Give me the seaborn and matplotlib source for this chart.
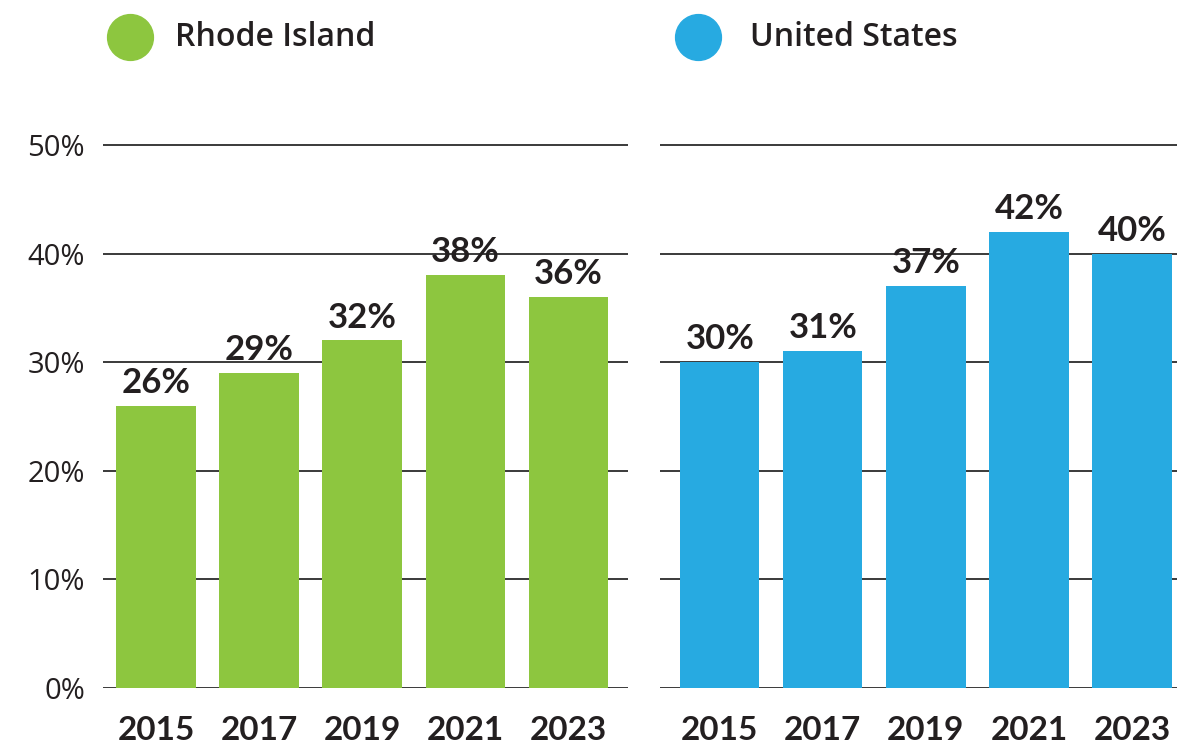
import numpy as np
import pandas as pd
import matplotlib
matplotlib.use('Agg')
import matplotlib.pyplot as plt
from matplotlib.lines import Line2D
import seaborn as sns

# ── Data ─────────────────────────────────────────────────────────────────────
years = ['2015', '2017', '2019', '2021', '2023']
ri_values = [26, 29, 32, 38, 36]
us_values = [30, 31, 37, 42, 40]
y_ticks = [0, 10, 20, 30, 40, 50]

GREEN = '#8DC63F'
BLUE = '#27AAE1'
INK = '#231F20'

sns.set_theme(style='white')
plt.rcParams['font.family'] = ['Lato', 'DejaVu Sans']

fig = plt.figure(figsize=(11.77, 7.44), dpi=100)
W, H = 1177, 744

# axes placement in pixels: 0% at y=688, one percent = 10.86 px
unit = 543 / 50
y0 = 688
ymax = 51
bottom = (H - y0) / H
height = ymax * unit / H

ax_l = fig.add_axes([103 / W, bottom, 525 / W, height])
ax_r = fig.add_axes([660 / W, bottom, (W - 660) / W, height])


def draw_panel(ax, values, color, xlim, show_yticks):
    df = pd.DataFrame({'year': years, 'value': values})
    sns.barplot(data=df, x='year', y='value', color=color, width=0.77,
                saturation=1, ax=ax, zorder=3, linewidth=0)
    ax.set_xlim(*xlim)
    ax.set_ylim(0, ymax)
    ax.set_yticks(y_ticks)
    ax.yaxis.grid(True, color='#3a3a3a', linewidth=1.4, zorder=0)
    ax.set_axisbelow(True)
    for s in ax.spines.values():
        s.set_visible(False)
    ax.set_xlabel('')
    ax.set_ylabel('')
    ax.tick_params(axis='x', length=0, pad=20, labelsize=24, colors=INK)
    for t in ax.get_xticklabels():
        t.set_fontweight('bold')
    if show_yticks:
        ax.set_yticklabels([f'{v}%' for v in y_ticks],
                           family=['Open Sans', 'DejaVu Sans'])
        ax.tick_params(axis='y', length=0, pad=13, labelsize=21, colors=INK)
    else:
        ax.tick_params(axis='y', length=0, labelleft=False)
    ax.bar_label(ax.containers[0], fmt='%d%%', padding=5, fontsize=25,
                 fontweight='bold', color=INK)
    ax.set_facecolor('white')


draw_panel(ax_l, ri_values, GREEN, (-0.515, 4.58), True)
draw_panel(ax_r, us_values, BLUE, (-0.58, 4.437), False)

# ── Legend (circle + label placed in figure pixels) ──────────────────────────
for label, color, cx, tx in [('Rhode Island', GREEN, 130, 175),
                             ('United States', BLUE, 698, 750)]:
    fig.add_artist(Line2D([cx / W], [1 - 37 / H], marker='o', linestyle='',
                          markersize=33, markerfacecolor=color,
                          markeredgecolor=color, transform=fig.transFigure))
    fig.text(tx / W, 1 - 37 / H, label, ha='left', va='center', fontsize=23,
             color=INK, fontweight='semibold',
             family=['Open Sans', 'DejaVu Sans'])

fig.savefig('out.png', dpi=100, facecolor='white')
